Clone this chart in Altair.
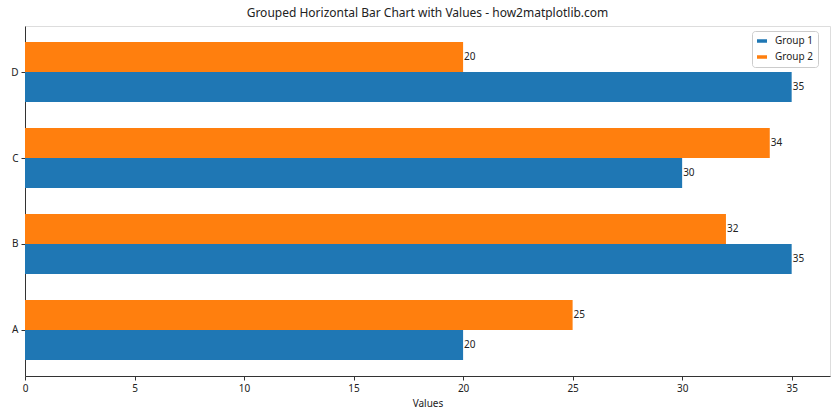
import altair as alt
import pandas as pd

categories = ["A", "B", "C", "D"]
group_names = ["Group 1", "Group 2"]
group1 = [20, 35, 30, 35]
group2 = [25, 32, 34, 20]
colors = ["#1f77b4", "#ff7f0e"]
x_ticks = [0, 5, 10, 15, 20, 25, 30, 35]

rows = []
for i, c in enumerate(categories):
    rows.append({"idx": i, "cat": c, "group": group_names[0], "value": group1[i], "off": -0.35})
    rows.append({"idx": i, "cat": c, "group": group_names[1], "value": group2[i], "off": 0.0})
df = pd.DataFrame(rows)

FONT = "Noto Sans"

base = alt.Chart(df).transform_calculate(
    y0="datum.idx + datum.off",
    y1="datum.idx + datum.off + 0.35",
    ym="datum.idx + datum.off + 0.175",
)

xenc = alt.X(
    "value:Q",
    scale=alt.Scale(domain=[0, 36.75], nice=False, zero=True),
    axis=alt.Axis(values=x_ticks, title="Values", grid=False, labelFontSize=10,
                  titleFontSize=10, titleFontWeight="normal", tickSize=4, labelFlush=False,
                  labelPadding=3, titlePadding=5, domainColor="#333", tickColor="#333",
                  labelColor="#222", titleColor="#222", labelFont=FONT, titleFont=FONT),
)

bars = base.mark_bar().encode(
    x=xenc,
    x2=alt.datum(0),
    y=alt.Y(
        "y0:Q",
        scale=alt.Scale(domain=[-0.535, 3.535], nice=False, zero=False),
        axis=alt.Axis(values=[0, 1, 2, 3], labelExpr="['A','B','C','D'][datum.value]",
                      title=None, grid=False, labelFontSize=10, tickSize=4, labelPadding=3,
                      labelFlush=False,
                      domainColor="#333", tickColor="#333", labelColor="#222", labelFont=FONT),
    ),
    y2="y1:Q",
    color=alt.Color(
        "group:N",
        scale=alt.Scale(domain=group_names, range=colors),
        legend=alt.Legend(
            title=None, orient="none", legendX=727, legendY=5,
            symbolType="M-1,-0.35H1V0.35H-1Z", symbolSize=100, symbolStrokeWidth=0,
            labelFontSize=10, labelFont=FONT, labelColor="#222", labelOffset=8,
            fillColor="white", strokeColor="#cccccc", cornerRadius=3, padding=5,
            rowPadding=6,
        ),
    ),
)

labels = base.mark_text(align="left", baseline="middle", dx=1, fontSize=10, font=FONT, color="#222").encode(
    x="value:Q",
    y="ym:Q",
    text="value:Q",
)

chart = (bars + labels).properties(
    width=805,
    height=350,
    title=alt.Title("Grouped Horizontal Bar Chart with Values - how2matplotlib.com",
                    fontSize=12, fontWeight="normal", font=FONT, color="#222", offset=6),
    autosize=alt.AutoSizeParams(type="none"),
    padding={"left": 25, "top": 26, "right": 10, "bottom": 44},
).configure_view(stroke="#333", strokeWidth=1).configure(background="white")

chart.save("out.html", embed_options={"renderer": "svg", "actions": False})
